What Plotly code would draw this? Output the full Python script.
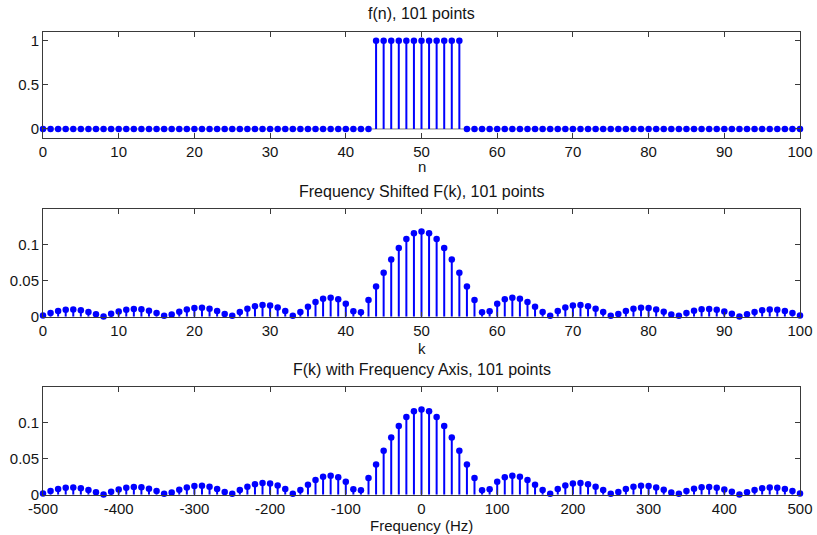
import plotly.graph_objects as go

# ---------------- data ----------------
n_index = list(range(0, 101))
f_n = [0, 0, 0, 0, 0, 0, 0, 0, 0, 0,
       0, 0, 0, 0, 0, 0, 0, 0, 0, 0,
       0, 0, 0, 0, 0, 0, 0, 0, 0, 0,
       0, 0, 0, 0, 0, 0, 0, 0, 0, 0,
       0, 0, 0, 0, 1, 1, 1, 1, 1, 1,
       1, 1, 1, 1, 1, 1, 0, 0, 0, 0,
       0, 0, 0, 0, 0, 0, 0, 0, 0, 0,
       0, 0, 0, 0, 0, 0, 0, 0, 0, 0,
       0, 0, 0, 0, 0, 0, 0, 0, 0, 0,
       0, 0, 0, 0, 0, 0, 0, 0, 0, 0,
       0]

k_index = list(range(0, 101))
F_k = [0.0018, 0.0053, 0.0080, 0.0096, 0.0099, 0.0089, 0.0066, 0.0034, 0.0003, 0.0041,
       0.0073, 0.0097, 0.0107, 0.0103, 0.0084, 0.0053, 0.0014, 0.0029, 0.0069, 0.0101,
       0.0121, 0.0124, 0.0111, 0.0081, 0.0038, 0.0013, 0.0066, 0.0112, 0.0147, 0.0163,
       0.0157, 0.0129, 0.0079, 0.0012, 0.0064, 0.0139, 0.0204, 0.0249, 0.0264, 0.0243,
       0.0180, 0.0077, 0.0062, 0.0231, 0.0419, 0.0611, 0.0795, 0.0956, 0.1082, 0.1161,
       0.1188,
       0.1161, 0.1082, 0.0956, 0.0795, 0.0611, 0.0419, 0.0231, 0.0062, 0.0077, 0.0180,
       0.0243, 0.0264, 0.0249, 0.0204, 0.0139, 0.0064, 0.0012, 0.0079, 0.0129, 0.0157,
       0.0163, 0.0147, 0.0112, 0.0066, 0.0013, 0.0038, 0.0081, 0.0111, 0.0124, 0.0121,
       0.0101, 0.0069, 0.0029, 0.0014, 0.0053, 0.0084, 0.0103, 0.0107, 0.0097, 0.0073,
       0.0041, 0.0003, 0.0034, 0.0066, 0.0089, 0.0099, 0.0096, 0.0080, 0.0053, 0.0018]

freq_hz = list(range(-500, 501, 10))

ticks_n = [0, 10, 20, 30, 40, 50, 60, 70, 80, 90, 100]
ticks_hz = [-500, -400, -300, -200, -100, 0, 100, 200, 300, 400, 500]
ticklabels_hz = ["-500", "-400", "-300", "-200", "-100", "0",
                 "100", "200", "300", "400", "500"]
ticks_y_top = [0, 0.5, 1]
ticklabels_y_top = ["0", "0.5", "1"]
ticks_y_F = [0, 0.05, 0.1]
ticklabels_y_F = ["0", "0.05", "0.1"]

titles = ["f(n), 101 points",
          "Frequency Shifted F(k), 101 points",
          "F(k) with Frequency Axis, 101 points"]
xlabels = ["n", "k", "Frequency (Hz)"]

# ---------------- figure ----------------
W, H = 817, 535
BLUE = "#0000FF"
AX = "#3a3a3a"
TXT = "#141414"
FONT = "Liberation Sans, Arial, sans-serif"

fig = go.Figure()


def stems(x, y, xa, ya, lw):
    sx, sy = [], []
    for xi, yi in zip(x, y):
        sx += [xi, xi, None]
        sy += [0, yi, None]
    fig.add_trace(go.Scatter(x=sx, y=sy, mode="lines", xaxis=xa, yaxis=ya,
                             line=dict(color=BLUE, width=lw), hoverinfo="skip",
                             showlegend=False, cliponaxis=False))
    fig.add_trace(go.Scatter(x=x, y=y, mode="markers", xaxis=xa, yaxis=ya,
                             marker=dict(color=BLUE, size=6.5, line=dict(width=0)),
                             showlegend=False, cliponaxis=False))


# baseline top plot
fig.add_trace(go.Scatter(x=[n_index[0], n_index[-1]], y=[0, 0], mode="lines",
                         xaxis="x", yaxis="y", line=dict(color="#808080", width=1),
                         showlegend=False, hoverinfo="skip"))
stems(n_index, f_n, "x", "y", 2)
stems(k_index, F_k, "x2", "y2", 2)
stems(freq_hz, F_k, "x3", "y3", 2)

# window-pixel boxes (top, bottom) for each panel
boxes = [(32, 137.8), (209, 316.7), (387, 494.7)]
xl, xr = 43, 800


def px(p):
    return p / W


def py(p):
    return 1 - p / H


common = dict(showline=True, linecolor=AX, linewidth=1, mirror="ticks",
              ticks="inside", ticklen=5, tickcolor=AX, showgrid=False,
              zeroline=False, automargin=False, ticklabeloverflow="allow",
              tickfont=dict(family=FONT, size=15, color=TXT))

xdom = [px(xl), px(xr)]
fig.update_layout(
    xaxis=dict(domain=xdom, anchor="y", range=[0, 100], tickvals=ticks_n, **common),
    yaxis=dict(domain=[py(boxes[0][1]), py(boxes[0][0])], anchor="x",
               range=[-0.1, 1.1], tickvals=ticks_y_top,
               ticktext=ticklabels_y_top, **common),
    xaxis2=dict(domain=xdom, anchor="y2", range=[0, 100], tickvals=ticks_n, **common),
    yaxis2=dict(domain=[py(boxes[1][1]), py(boxes[1][0])], anchor="x2",
                range=[0, 0.15], tickvals=ticks_y_F,
                ticktext=ticklabels_y_F, **common),
    xaxis3=dict(domain=xdom, anchor="y3", range=[-500, 500], tickvals=ticks_hz,
                ticktext=ticklabels_hz, **common),
    yaxis3=dict(domain=[py(boxes[2][1]), py(boxes[2][0])], anchor="x3",
                range=[0, 0.15], tickvals=ticks_y_F,
                ticktext=ticklabels_y_F, **common),
    width=W, height=H,
    margin=dict(l=0, r=0, t=0, b=0),
    paper_bgcolor="white", plot_bgcolor="white",
    font=dict(family=FONT, size=15, color=TXT),
    showlegend=False,
)

ann = []
title_y = [14, 192, 369]
xlabel_y = [167, 348, 525]
for i in range(3):
    ann.append(dict(text=titles[i], x=px((xl + xr) / 2), y=py(title_y[i]),
                    xref="paper", yref="paper", showarrow=False,
                    font=dict(family=FONT, size=16, color=TXT),
                    xanchor="center", yanchor="middle"))
    ann.append(dict(text=xlabels[i], x=px((xl + xr) / 2), y=py(xlabel_y[i]),
                    xref="paper", yref="paper", showarrow=False,
                    font=dict(family=FONT, size=15, color=TXT),
                    xanchor="center", yanchor="middle"))
fig.update_layout(annotations=ann)

# remove the default 8px page margin so the figure fills the window exactly
fig.write_html("out.html",
               config={"displayModeBar": False},
               post_script="document.body.style.margin='0px';"
                           "document.body.style.overflow='hidden';")
